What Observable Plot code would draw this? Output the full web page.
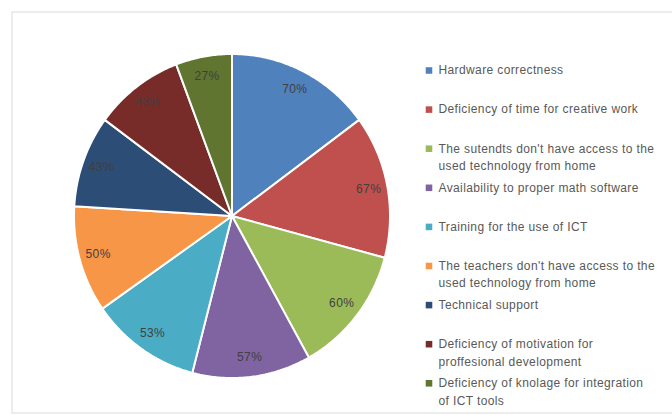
<!DOCTYPE html>
<html>
<head>
<meta charset="utf-8">
<script src="https://cdn.jsdelivr.net/npm/d3@7"></script>
<script src="https://cdn.jsdelivr.net/npm/@observablehq/plot@0.6"></script>
<style>
  html, body { margin: 0; padding: 0; background: #fff; }
  #chart { width: 672px; height: 415px; }
  #chart svg text { letter-spacing: 0.38px; }
</style>
</head>
<body>
<div id="chart"></div>
<script>
// ---- data ----
const categories = [
  "Hardware correctness",
  "Deficiency of time for creative work",
  "The sutendts don't have access to the\nused technology from home",
  "Availability to proper math software",
  "Training for the use of ICT",
  "The teachers don't have access to the\nused technology from home",
  "Technical support",
  "Deficiency of motivation for\nproffesional development",
  "Deficiency of knolage for integration\nof ICT tools"
];
const values = [70, 67, 60, 57, 53, 50, 43, 43, 27];
const labels = ["70%", "67%", "60%", "57%", "53%", "50%", "43%", "43%", "27%"];
const colors = ["#4F81BD", "#C0504D", "#9BBB59", "#8064A2", "#4BACC6", "#F79646", "#2C4D75", "#772C2A", "#5F7530"];

// ---- layout ----
const W = 672, H = 415;
const cx = 231.5, cy = 215.5, rx = 158, ry = 162;
const labelR = 0.88;

const arcs = d3.pie().sort(null).value(d => d)(values);

const slicePts = [];
arcs.forEach((a, i) => {
  const cat = categories[i];
  slicePts.push({cat, x: cx, y: cy});
  const n = Math.max(8, Math.ceil((a.endAngle - a.startAngle) / 0.01));
  for (let k = 0; k <= n; k++) {
    const t = a.startAngle + (a.endAngle - a.startAngle) * k / n;
    slicePts.push({cat, x: cx + rx * Math.sin(t), y: cy - ry * Math.cos(t)});
  }
  slicePts.push({cat, x: cx, y: cy});
});

const labelPts = arcs.map((a, i) => {
  const t = (a.startAngle + a.endAngle) / 2;
  return {label: labels[i], x: cx + labelR * rx * Math.sin(t), y: cy - labelR * ry * Math.cos(t)};
});

const legendTop = 70, legendStep = 39.1, lineH = 17.5;
const legendKeys = categories.map((c, i) => ({cat: c, x: 428.5, y: legendTop + legendStep * i}));
const legendLines = [];
categories.forEach((c, i) => {
  c.split("\n").forEach((line, j) => {
    legendLines.push({text: line, x: 438, y: legendTop + legendStep * i + lineH * j});
  });
});

const plot = Plot.plot({
  width: W,
  height: H,
  margin: 0,
  style: {fontFamily: "'Liberation Sans', Arial, sans-serif", background: "transparent"},
  x: {domain: [0, W], range: [0, W], axis: null},
  y: {domain: [0, H], range: [0, H], axis: null},
  color: {domain: categories, range: colors},
  marks: [
    Plot.rect([{x1: 12, x2: W + 5, y1: 12, y2: 413}], {x1: "x1", x2: "x2", y1: "y1", y2: "y2", fill: "white", stroke: "#d9d9d9", strokeWidth: 1}),
    Plot.line(slicePts, {x: "x", y: "y", z: "cat", fill: "cat", stroke: "white", strokeWidth: 2, strokeLinejoin: "miter", curve: "linear"}),
    Plot.text(labelPts, {x: "x", y: "y", text: "label", fill: "#404040", fontSize: 12}),
    Plot.dot(legendKeys, {x: "x", y: "y", fill: "cat", symbol: "square", r: 3.7, stroke: null}),
    Plot.text(legendLines, {x: "x", y: "y", text: "text", textAnchor: "start", fill: "#595959", fontSize: 12})
  ]
});
document.getElementById("chart").appendChild(plot);
</script>
</body>
</html>
